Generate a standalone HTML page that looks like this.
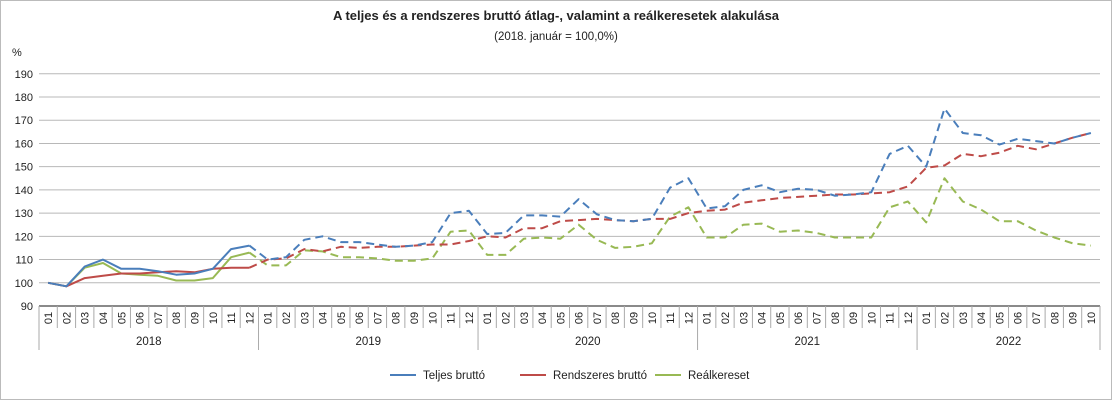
<!DOCTYPE html>
<html><head><meta charset="utf-8"><style>
body{margin:0;background:#fff;}
svg{display:block;font-family:"Liberation Sans",Arial,sans-serif;}
</style></head><body>
<svg id="chart" width="1112" height="400" viewBox="0 0 1112 400" xmlns="http://www.w3.org/2000/svg">
<rect x="0.5" y="0.5" width="1111" height="399" fill="#fff" stroke="#bbb"/>
<text x="556" y="20" text-anchor="middle" font-size="13" font-weight="bold" fill="#222">A teljes és a rendszeres bruttó átlag-, valamint a reálkeresetek alakulása</text>
<text x="556" y="40" text-anchor="middle" font-size="11.5" fill="#222">(2018. január = 100,0%)</text>
<text x="12" y="56" font-size="11" fill="#222">%</text>
<g id="grid"></g><g id="xaxis"></g><g id="series"></g>
<g>
<g><line x1="390" y1="375" x2="416" y2="375" stroke="#4a7ebb" stroke-width="2"/><text x="423" y="379" font-size="11.5" fill="#222">Teljes bruttó</text></g>
<g><line x1="520" y1="375" x2="546" y2="375" stroke="#be4b48" stroke-width="2"/><text x="553" y="379" font-size="11.5" fill="#222">Rendszeres bruttó</text></g>
<g><line x1="655" y1="375" x2="681" y2="375" stroke="#98b954" stroke-width="2"/><text x="688" y="379" font-size="11.5" fill="#222">Reálkereset</text></g>
</g>
</svg>
<script>
const years = ["2018","2019","2020","2021","2022"];
const months = ["01","02","03","04","05","06","07","08","09","10","11","12"];
const yTicks = [90,100,110,120,130,140,150,160,170,180,190];
const teljes = [100,98.5,107,110,106,106,105,103.5,104,106,114.5,116,
110,111,118.5,120,117.5,117.5,116.5,115.5,116,117.5,130,131,
121,121.5,129,129,128.5,136,129.5,127,126.5,127.5,141,145,
132,133,140,142,139,140.5,140,137.5,138,139,155.5,159,
150,175,164.5,163.5,159.5,162,161,160,162.5,164.5];
const rendszeres = [100,98.5,102,103,104,104,104.5,105,104.5,106,106.5,106.5,
110,110.5,114.5,113.5,115.5,115,115.5,115.5,116,116.5,116.5,118,
120,119.5,123.5,123.5,126.5,127,127.5,127,126.5,127.5,127.5,130,
131,131.5,134.5,135.5,136.5,137,137.5,138,138,138.5,139,141.5,
149.5,150.5,155.5,154.5,156,159,157.5,160,162.5,164.5];
const real = [100,98.5,106.5,108.5,104,103.5,103,101,101,102,111,113,
107.5,107.5,114,113.5,111,111,110.5,109.5,109.5,110.5,122,122.5,
112,112,119,119.5,119,125,118.5,115,115.5,117,128.5,132.5,
119.5,119.5,125,125.5,122,122.5,121.5,119.5,119.5,119.5,132.5,135,
126,145,135,131.5,126.5,126.5,122.5,119.5,117,116];
const solidUntil = 11;
const NS="http://www.w3.org/2000/svg";
const X0=39, X1=1100, N=teljes.length, step=(X1-X0)/N;
const xs=i=>X0+step*(i+0.5);
const ys=v=>306-(v-90)*2.322;
function mk(tag,attrs,parent){const e=document.createElementNS(NS,tag);for(const k in attrs)e.setAttribute(k,attrs[k]);parent.appendChild(e);return e;}
const grid=document.getElementById('grid');
yTicks.forEach(t=>{
  if(t>90){const l=mk('line',{x1:X0,x2:X1,y1:ys(t),y2:ys(t),stroke:'#b8b8b8','stroke-width':1},grid);
  
  }
  const tx=mk('text',{x:33,y:ys(t)+4,'text-anchor':'end','font-size':11,fill:'#222'},grid);tx.textContent=t;
  
  
});
const xa=document.getElementById('xaxis');
const ax=mk('line',{x1:X0,x2:X1,y1:306,y2:306,stroke:'#444','stroke-width':1.2},xa);


for(let i=0;i<=N;i++){
  const x=X0+step*i, yr=(i%12===0||i===N);
  mk('line',{x1:x,x2:x,y1:306,y2:yr?350:328,stroke:'#aaa','stroke-width':1},xa);
}
for(let i=0;i<N;i++){
  const x=xs(i);
  const t=mk('text',{x:0,y:0,transform:`translate(${x+4},318) rotate(-90)`,'text-anchor':'middle','font-size':11,fill:'#222'},xa);
  t.textContent=months[i%12];
  
  
}
years.forEach((y,k)=>{
  const a=k*12,b=Math.min(N,a+12);
  const t=mk('text',{x:X0+step*(a+b)/2,y:345,'text-anchor':'middle','font-size':11.5,fill:'#222'},xa);
  t.textContent=y;
  
  
});
const sg=document.getElementById('series');
function draw(data,color,name){
  const pts=data.map((v,i)=>xs(i).toFixed(1)+','+ys(v).toFixed(1));
  const s=mk('polyline',{points:pts.slice(0,solidUntil+1).join(' '),fill:'none',stroke:color,'stroke-width':2,'stroke-linejoin':'round'},sg);
  
  
  const d=mk('polyline',{points:pts.slice(solidUntil).join(' '),fill:'none',stroke:color,'stroke-width':2,'stroke-dasharray':'8,5','stroke-linejoin':'round'},sg);
  
  
}
draw(real,'#98b954','realkereset');
draw(rendszeres,'#be4b48','rendszeres-brutto');
draw(teljes,'#4a7ebb','teljes-brutto');
</script>
</body></html>
